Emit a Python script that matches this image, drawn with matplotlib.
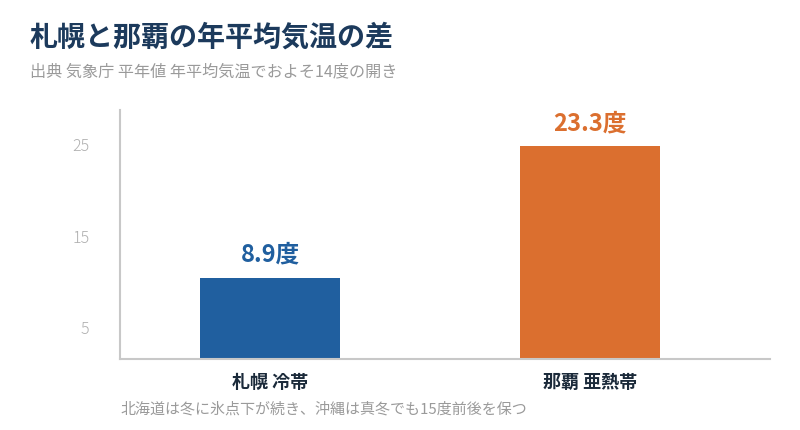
import matplotlib.pyplot as plt
from matplotlib.transforms import ScaledTranslation

plt.rcParams['font.family'] = ['Noto Sans CJK JP', 'DejaVu Sans']

# data
cities = ['札幌 冷帯', '那覇 亜熱帯']
temps = [8.9, 23.3]
bar_labels = ['8.9度', '23.3度']
colors = ['#205f9f', '#db6f2f']
yticks = [5, 15, 25]

title = '札幌と那覇の年平均気温の差'
subtitle = '出典 気象庁 平年値 年平均気温でおよそ14度の開き'
note = '北海道は冬に氷点下が続き、沖縄は真冬でも15度前後を保つ'

fig = plt.figure(figsize=(8, 4.3), dpi=100)
ax = fig.add_axes([120/800, 1 - 359/430, 650/800, 249/430])

x = range(len(cities))
ax.bar(x, temps, width=0.4375, color=colors)
ax.set_xlim(-0.469, 1.5625)
ax.set_ylim(0, 27.3)

for i, (v, lab) in enumerate(zip(temps, bar_labels)):
    ax.text(i, v + 1.2, lab, ha='center', va='bottom', fontsize=17,
            fontweight='bold', color=colors[i])

ax.set_xticks(list(x))
ax.set_xticklabels(cities, fontsize=13, fontweight='bold', color='#1b2a3a')
ax.tick_params(axis='x', length=0, pad=10)
ax.set_yticks(yticks)
ax.set_yticklabels([str(t) for t in yticks], fontsize=11.5, color='#b0b0b0',
                   fontweight='light')
ax.tick_params(axis='y', length=0, pad=22)
# labels sit a bit below their ticks in the reference
off = ScaledTranslation(0, -0.14, fig.dpi_scale_trans)
for lbl in ax.get_yticklabels():
    lbl.set_transform(lbl.get_transform() + off)

for s in ['top', 'right']:
    ax.spines[s].set_visible(False)
for s in ['left', 'bottom']:
    ax.spines[s].set_color('#c8c8c8')
    ax.spines[s].set_linewidth(1.5)

fig.text(30/800, 1 - 38/430, title, fontsize=20.2, fontweight='bold',
         color='#1c3a5c', va='center')
fig.text(30/800, 1 - 72/430, subtitle, fontsize=11.6, color='#9a9a9a',
         va='center')
fig.text(120/800, 1 - 409/430, note, fontsize=10.8, color='#9a9a9a',
         va='center')

fig.savefig('out.png', dpi=100)
